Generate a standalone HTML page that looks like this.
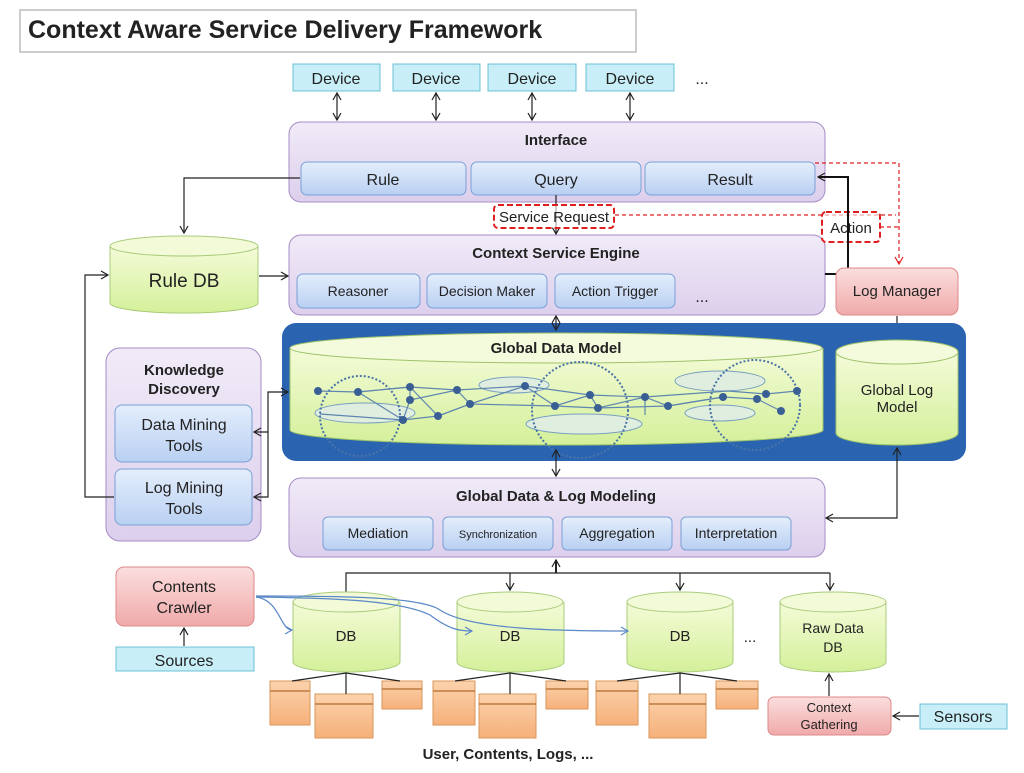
<!DOCTYPE html>
<html><head><meta charset="utf-8"><style>
body{margin:0;background:#fff;width:1024px;height:768px;overflow:hidden}
svg text{font-family:"Liberation Sans",sans-serif;fill:#222}
</style></head><body>
<svg width="1024" height="768" viewBox="0 0 1024 768" xmlns="http://www.w3.org/2000/svg">
<defs>
<linearGradient id="lav" x1="0" y1="0" x2="0" y2="1"><stop offset="0" stop-color="#f1ebf8"/><stop offset="1" stop-color="#dccfec"/></linearGradient>
<linearGradient id="blu" x1="0" y1="0" x2="0" y2="1"><stop offset="0" stop-color="#e4eefc"/><stop offset="1" stop-color="#b9d0f2"/></linearGradient>
<linearGradient id="pnk" x1="0" y1="0" x2="0" y2="1"><stop offset="0" stop-color="#fbdede"/><stop offset="1" stop-color="#f0aaaa"/></linearGradient>
<linearGradient id="grn" x1="0" y1="0" x2="0" y2="1"><stop offset="0" stop-color="#f4fbd8"/><stop offset="1" stop-color="#d4f09a"/></linearGradient>
<linearGradient id="org" x1="0" y1="0" x2="0" y2="1"><stop offset="0" stop-color="#fcd3ad"/><stop offset="1" stop-color="#f5b07a"/></linearGradient>
<marker id="ar" markerWidth="10" markerHeight="10" refX="8" refY="5" orient="auto-start-reverse" markerUnits="userSpaceOnUse"><path d="M1,1 L8,5 L1,9" fill="none" stroke="#222" stroke-width="1.2"/></marker>
<marker id="arr" markerWidth="10" markerHeight="10" refX="8" refY="5" orient="auto-start-reverse" markerUnits="userSpaceOnUse"><path d="M1,1 L8,5 L1,9" fill="none" stroke="#e02020" stroke-width="1.2"/></marker>
<marker id="arb" markerWidth="10" markerHeight="10" refX="8" refY="5" orient="auto-start-reverse" markerUnits="userSpaceOnUse"><path d="M1,1 L8,5 L1,9" fill="none" stroke="#5a88c8" stroke-width="1.2"/></marker>
</defs>

<rect x="20" y="10" width="616" height="42" fill="#fff" stroke="#ccc" stroke-width="2"/>
<text x="28" y="38" font-size="25" font-weight="bold">Context Aware Service Delivery Framework</text>

<g font-size="16" text-anchor="middle">
<rect x="293" y="64" width="87" height="27" fill="#c8eef7" stroke="#6cc0d6"/><text x="336" y="84">Device</text>
<rect x="393" y="64" width="87" height="27" fill="#c8eef7" stroke="#6cc0d6"/><text x="436" y="84">Device</text>
<rect x="488" y="64" width="88" height="27" fill="#c8eef7" stroke="#6cc0d6"/><text x="532" y="84">Device</text>
<rect x="586" y="64" width="88" height="27" fill="#c8eef7" stroke="#6cc0d6"/><text x="630" y="84">Device</text>
<text x="702" y="84">...</text>
</g>
<g stroke="#222" stroke-width="1.2" marker-end="url(#ar)" marker-start="url(#ar)">
<line x1="337" y1="93" x2="337" y2="120"/><line x1="436" y1="93" x2="436" y2="120"/>
<line x1="532" y1="93" x2="532" y2="120"/><line x1="630" y1="93" x2="630" y2="120"/>
</g>

<rect x="289" y="122" width="536" height="80" rx="12" fill="url(#lav)" stroke="#a58cc4"/>
<text x="556" y="145" font-size="15" font-weight="bold" text-anchor="middle">Interface</text>
<g font-size="16" text-anchor="middle">
<rect x="301" y="162" width="165" height="33" rx="6" fill="url(#blu)" stroke="#7a9fd6"/><text x="383" y="185">Rule</text>
<rect x="471" y="162" width="170" height="33" rx="6" fill="url(#blu)" stroke="#7a9fd6"/><text x="556" y="185">Query</text>
<rect x="645" y="162" width="170" height="33" rx="6" fill="url(#blu)" stroke="#7a9fd6"/><text x="730" y="185">Result</text>
</g>

<rect x="289" y="235" width="536" height="80" rx="12" fill="url(#lav)" stroke="#a58cc4"/>
<text x="556" y="258" font-size="15" font-weight="bold" text-anchor="middle">Context Service Engine</text>
<g font-size="14" text-anchor="middle">
<rect x="297" y="274" width="123" height="34" rx="6" fill="url(#blu)" stroke="#7a9fd6"/><text x="358" y="296">Reasoner</text>
<rect x="427" y="274" width="120" height="34" rx="6" fill="url(#blu)" stroke="#7a9fd6"/><text x="487" y="296">Decision Maker</text>
<rect x="555" y="274" width="120" height="34" rx="6" fill="url(#blu)" stroke="#7a9fd6"/><text x="615" y="296">Action Trigger</text>
<text x="702" y="302" font-size="16">...</text>
</g>
<line x1="556" y1="195" x2="556" y2="234" stroke="#222" stroke-width="1.2" marker-end="url(#ar)"/>
<rect x="494" y="205" width="120" height="23" rx="4" fill="#fff" fill-opacity="0.6" stroke="#e02020" stroke-width="2" stroke-dasharray="6,3"/>
<text x="554" y="222" font-size="15" text-anchor="middle">Service Request</text>
<g stroke="#e02020" stroke-width="1.2" stroke-dasharray="4,3" fill="none">
<polyline points="615,215 896,215"/>
<polyline points="815,163 899,163 899,264" marker-end="url(#arr)"/>
<polyline points="880,227 899,227"/>
</g>
<rect x="822" y="212" width="58" height="30" rx="4" fill="#fff" fill-opacity="0.6" stroke="#e02020" stroke-width="2" stroke-dasharray="6,3"/>
<text x="851" y="233" font-size="15" text-anchor="middle">Action</text>
<polyline points="825,274 848,274 848,177 818,177" fill="none" stroke="#111" stroke-width="2" marker-end="url(#ar)"/>

<rect x="836" y="268" width="122" height="47" rx="8" fill="url(#pnk)" stroke="#d88"/>
<text x="897" y="296" font-size="15" text-anchor="middle">Log Manager</text>
<line x1="897" y1="316" x2="897" y2="338" stroke="#222" stroke-width="1.2" marker-end="url(#ar)"/>

<path d="M110,246 L110,303 A74,10 0 0 0 258,303 L258,246" fill="url(#grn)" stroke="#a9cc7a"/>
<ellipse cx="184" cy="246" rx="74" ry="10" fill="#f2fad8" stroke="#a9cc7a"/>
<text x="184" y="287" font-size="19" text-anchor="middle">Rule DB</text>
<line x1="259" y1="276" x2="288" y2="276" stroke="#222" stroke-width="1.2" marker-end="url(#ar)"/>
<polyline points="300,178 184,178 184,233" fill="none" stroke="#222" stroke-width="1.2" marker-end="url(#ar)"/>

<rect x="282" y="323" width="684" height="138" rx="14" fill="#2a64b0"/>
<path d="M290,348 L290,430 A266,15 0 0 0 823,430 L823,348" fill="url(#grn)" stroke="#9fc36a"/>
<ellipse cx="556" cy="348" rx="266" ry="15" fill="#f4fbdc" stroke="#9fc36a"/>
<text x="556" y="353" font-size="15" font-weight="bold" text-anchor="middle">Global Data Model</text>
<g fill="#dfeede" stroke="#7aa0c0">
<ellipse cx="365" cy="413" rx="50" ry="10"/><ellipse cx="514" cy="385" rx="35" ry="8"/>
<ellipse cx="584" cy="424" rx="58" ry="10"/><ellipse cx="720" cy="381" rx="45" ry="10"/><ellipse cx="720" cy="413" rx="35" ry="8"/>
</g>
<g fill="none" stroke="#4a74a8" stroke-width="2" stroke-dasharray="2,2">
<circle cx="360" cy="416" r="40"/><circle cx="580" cy="410" r="48"/><circle cx="755" cy="405" r="45"/>
</g>
<g stroke="#5f86b0" stroke-width="1.2" fill="none">
<polyline points="318,391 358,392 410,387 457,390 525,386 590,395 645,397 728,391 766,394 797,391"/>
<polyline points="358,392 403,420 438,416 470,404 555,406 598,408 668,406 723,397 757,399 781,411"/>
<polyline points="358,392 410,387 410,400 403,420"/><polyline points="410,400 457,390 470,404 525,386 555,406"/>
<polyline points="410,387 438,416 470,404"/><polyline points="590,395 598,408 645,397 668,406 723,397"/>
<polyline points="645,397 645,415"/><polyline points="555,406 590,395"/><polyline points="320,414 403,420"/>
</g>
<g fill="#3a5f94">
<circle cx="318" cy="391" r="4"/><circle cx="358" cy="392" r="4"/><circle cx="410" cy="387" r="4"/><circle cx="410" cy="400" r="4"/><circle cx="403" cy="420" r="4"/><circle cx="438" cy="416" r="4"/><circle cx="457" cy="390" r="4"/><circle cx="470" cy="404" r="4"/><circle cx="525" cy="386" r="4"/><circle cx="555" cy="406" r="4"/><circle cx="590" cy="395" r="4"/><circle cx="598" cy="408" r="4"/><circle cx="645" cy="397" r="4"/><circle cx="668" cy="406" r="4"/><circle cx="723" cy="397" r="4"/><circle cx="757" cy="399" r="4"/><circle cx="766" cy="394" r="4"/><circle cx="797" cy="391" r="4"/><circle cx="781" cy="411" r="4"/>
</g>
<path d="M836,352 L836,433 A61,12 0 0 0 958,433 L958,352" fill="url(#grn)" stroke="#9fc36a"/>
<ellipse cx="897" cy="352" rx="61" ry="12" fill="#f4fbdc" stroke="#9fc36a"/>
<text x="897" y="395" font-size="15" text-anchor="middle">Global Log</text>
<text x="897" y="412" font-size="15" text-anchor="middle">Model</text>

<line x1="556" y1="316" x2="556" y2="330" stroke="#222" stroke-width="1.2" marker-start="url(#ar)" marker-end="url(#ar)"/>
<line x1="556" y1="450" x2="556" y2="476" stroke="#222" stroke-width="1.2" marker-end="url(#ar)" marker-start="url(#ar)"/>
<polyline points="826,518 897,518 897,448" fill="none" stroke="#222" stroke-width="1.2" marker-end="url(#ar)" marker-start="url(#ar)"/>

<rect x="106" y="348" width="155" height="193" rx="14" fill="url(#lav)" stroke="#a58cc4"/>
<text x="184" y="375" font-size="15" font-weight="bold" text-anchor="middle">Knowledge</text>
<text x="184" y="394" font-size="15" font-weight="bold" text-anchor="middle">Discovery</text>
<rect x="115" y="405" width="137" height="57" rx="7" fill="url(#blu)" stroke="#7a9fd6"/>
<text x="184" y="430" font-size="16" text-anchor="middle">Data Mining</text><text x="184" y="451" font-size="16" text-anchor="middle">Tools</text>
<rect x="115" y="469" width="137" height="56" rx="7" fill="url(#blu)" stroke="#7a9fd6"/>
<text x="184" y="493" font-size="16" text-anchor="middle">Log Mining</text><text x="184" y="514" font-size="16" text-anchor="middle">Tools</text>
<polyline points="254,432 268,432 268,392 288,392" fill="none" stroke="#222" stroke-width="1.2" marker-start="url(#ar)" marker-end="url(#ar)"/>
<polyline points="254,497 268,497 268,432" fill="none" stroke="#222" stroke-width="1.2" marker-start="url(#ar)"/>
<polyline points="114,497 85,497 85,275 108,275" fill="none" stroke="#222" stroke-width="1.2" marker-end="url(#ar)"/>

<rect x="289" y="478" width="536" height="79" rx="12" fill="url(#lav)" stroke="#a58cc4"/>
<text x="556" y="501" font-size="15" font-weight="bold" text-anchor="middle">Global Data &amp; Log Modeling</text>
<g text-anchor="middle">
<rect x="323" y="517" width="110" height="33" rx="5" fill="url(#blu)" stroke="#7a9fd6"/><text x="378" y="538" font-size="14">Mediation</text>
<rect x="443" y="517" width="110" height="33" rx="5" fill="url(#blu)" stroke="#7a9fd6"/><text x="498" y="538" font-size="11">Synchronization</text>
<rect x="562" y="517" width="110" height="33" rx="5" fill="url(#blu)" stroke="#7a9fd6"/><text x="617" y="538" font-size="14">Aggregation</text>
<rect x="681" y="517" width="110" height="33" rx="5" fill="url(#blu)" stroke="#7a9fd6"/><text x="736" y="538" font-size="14">Interpretation</text>
</g>

<g stroke="#222" stroke-width="1.2" fill="none">
<polyline points="346,592 346,573 830,573"/>
<line x1="556" y1="573" x2="556" y2="560" stroke-width="2" marker-end="url(#ar)"/>
<line x1="510" y1="573" x2="510" y2="590" marker-end="url(#ar)"/>
<line x1="680" y1="573" x2="680" y2="590" marker-end="url(#ar)"/>
<line x1="830" y1="573" x2="830" y2="590" marker-end="url(#ar)"/>
</g>

<rect x="116" y="567" width="138" height="59" rx="8" fill="url(#pnk)" stroke="#d88"/>
<text x="184" y="592" font-size="16" text-anchor="middle">Contents</text><text x="184" y="613" font-size="16" text-anchor="middle">Crawler</text>
<rect x="116" y="647" width="138" height="24" fill="#c8eef7" stroke="#6cc0d6"/>
<text x="184" y="666" font-size="16" text-anchor="middle">Sources</text>
<line x1="184" y1="646" x2="184" y2="628" stroke="#222" stroke-width="1.2" marker-end="url(#ar)"/>

<g text-anchor="middle" font-size="15">
<path d="M293,602 L293,662 A53,10 0 0 0 400,662 L400,602" fill="url(#grn)" stroke="#a9cc7a"/><ellipse cx="346" cy="602" rx="53" ry="10" fill="#f2fad8" stroke="#a9cc7a"/><text x="346" y="641">DB</text>
<path d="M457,602 L457,662 A53,10 0 0 0 564,662 L564,602" fill="url(#grn)" stroke="#a9cc7a"/><ellipse cx="510" cy="602" rx="53" ry="10" fill="#f2fad8" stroke="#a9cc7a"/><text x="510" y="641">DB</text>
<path d="M627,602 L627,662 A53,10 0 0 0 733,662 L733,602" fill="url(#grn)" stroke="#a9cc7a"/><ellipse cx="680" cy="602" rx="53" ry="10" fill="#f2fad8" stroke="#a9cc7a"/><text x="680" y="641">DB</text>
<text x="750" y="642">...</text>
<path d="M780,602 L780,662 A53,10 0 0 0 886,662 L886,602" fill="url(#grn)" stroke="#a9cc7a"/><ellipse cx="833" cy="602" rx="53" ry="10" fill="#f2fad8" stroke="#a9cc7a"/><text x="833" y="633" font-size="14">Raw Data</text><text x="833" y="652" font-size="14">DB</text>
</g>
<g fill="none" stroke="#5a88c8" stroke-width="1.2">
<path d="M256,597 C280,600 280,630 292,630" marker-end="url(#arb)"/>
<path d="M256,597 C330,598 400,600 430,615 C450,630 460,631 472,631" marker-end="url(#arb)"/>
<path d="M256,596 C330,596 420,596 440,610 C470,630 560,631 628,631" marker-end="url(#arb)"/>
</g>

<g fill="url(#org)" stroke="#d9955a">
<rect x="270" y="681" width="40" height="44"/><rect x="315" y="694" width="58" height="44"/><rect x="382" y="681" width="40" height="28"/>
<rect x="433" y="681" width="42" height="44"/><rect x="479" y="694" width="57" height="44"/><rect x="546" y="681" width="42" height="28"/>
<rect x="596" y="681" width="42" height="44"/><rect x="649" y="694" width="57" height="44"/><rect x="716" y="681" width="42" height="28"/>
</g>
<g stroke="#c07a40" stroke-width="1.5">
<line x1="270" y1="691" x2="310" y2="691"/><line x1="315" y1="704" x2="373" y2="704"/><line x1="382" y1="689" x2="422" y2="689"/>
<line x1="433" y1="691" x2="475" y2="691"/><line x1="479" y1="704" x2="536" y2="704"/><line x1="546" y1="689" x2="588" y2="689"/>
<line x1="596" y1="691" x2="638" y2="691"/><line x1="649" y1="704" x2="706" y2="704"/><line x1="716" y1="689" x2="758" y2="689"/>
</g>
<g stroke="#222" stroke-width="1.2" fill="none">
<polyline points="292,681 346,673 400,681"/><line x1="346" y1="673" x2="346" y2="694"/>
<polyline points="455,681 510,673 566,681"/><line x1="510" y1="673" x2="510" y2="694"/>
<polyline points="617,681 680,673 737,681"/><line x1="680" y1="673" x2="680" y2="694"/>
</g>
<text x="508" y="759" font-size="15" font-weight="bold" text-anchor="middle" fill="#333">User, Contents, Logs, ...</text>

<rect x="768" y="697" width="123" height="38" rx="6" fill="url(#pnk)" stroke="#d88"/>
<text x="829" y="712" font-size="13" text-anchor="middle">Context</text><text x="829" y="729" font-size="13" text-anchor="middle">Gathering</text>
<line x1="829" y1="696" x2="829" y2="674" stroke="#222" stroke-width="1.2" marker-end="url(#ar)"/>
<rect x="920" y="704" width="87" height="25" fill="#c8eef7" stroke="#6cc0d6"/>
<text x="963" y="722" font-size="16" text-anchor="middle">Sensors</text>
<line x1="919" y1="716" x2="893" y2="716" stroke="#222" stroke-width="1.2" marker-end="url(#ar)"/>
</svg>
</body></html>
